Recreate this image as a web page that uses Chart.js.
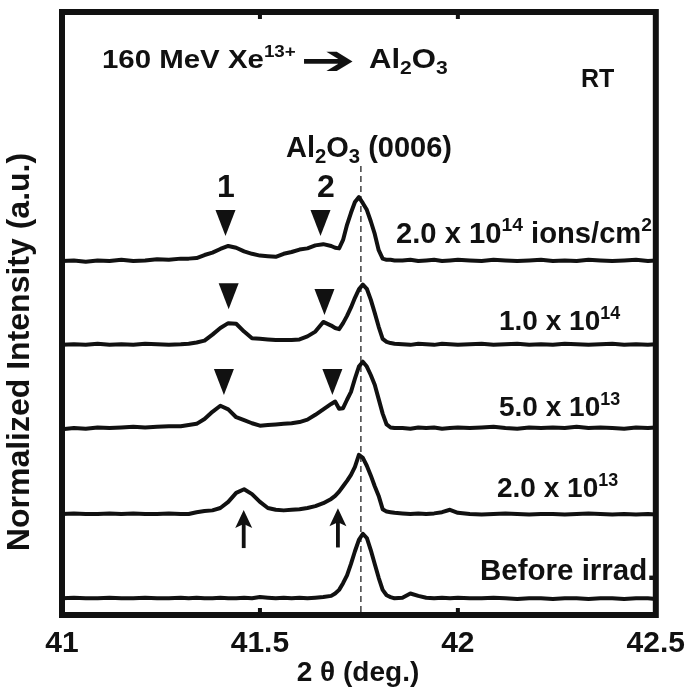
<!DOCTYPE html>
<html><head><meta charset="utf-8">
<script src="https://cdn.jsdelivr.net/npm/chart.js@4.4.1/dist/chart.umd.min.js"></script>
<style>html,body{margin:0;padding:0;background:#fff;overflow:hidden}canvas{display:block}</style>
</head><body>
<canvas id="c" width="696" height="693"></canvas>
<script>
// ---- data ----
const twoTheta = [
  41.00, 41.03, 41.06, 41.09, 41.12, 41.15, 41.18, 41.21, 41.24, 41.27, 41.30,
  41.32, 41.34, 41.36, 41.38, 41.40, 41.42, 41.44, 41.46, 41.48, 41.50, 41.52, 41.54, 41.56, 41.58, 41.60, 41.62, 41.64, 41.66, 41.68,
  41.69, 41.70, 41.71, 41.72, 41.73, 41.74, 41.75, 41.76, 41.77, 41.78, 41.79, 41.80, 41.81, 41.82, 41.83, 41.84,
  41.86, 41.88, 41.90, 41.92, 41.94, 41.96, 41.98, 42.00,
  42.03, 42.06, 42.09, 42.12, 42.15, 42.18, 42.21, 42.24, 42.27, 42.30, 42.33, 42.36, 42.39, 42.42, 42.45, 42.48, 42.50
];
// intensities relative to each curve's own baseline (a.u.)
const int2p0e14 = [
  0.00, 0.01, -0.01, 0.01, 0.00, 0.02, 0.00, 0.01, 0.03, 0.02, 0.04,
  0.04, 0.05, 0.10, 0.14, 0.20, 0.25, 0.22, 0.16, 0.12, 0.09, 0.08, 0.07, 0.12, 0.15, 0.19, 0.21, 0.26, 0.28, 0.25,
  0.22, 0.21, 0.35, 0.60, 0.80, 0.98, 1.06, 0.96, 0.85, 0.66, 0.45, 0.18, 0.04, 0.02, 0.02, 0.01,
  0.01, 0.02, 0.00, 0.01, 0.02, 0.00, 0.01, 0.02,
  0.01, 0.00, 0.02, 0.01, 0.00, 0.01, 0.02, 0.00, 0.01, 0.00, 0.02, 0.01, 0.00, 0.01, 0.02, 0.00, 0.01
];
const int1p0e14 = [
  0.00, 0.01, 0.00, 0.02, 0.00, 0.01, 0.00, 0.02, 0.01, 0.00, 0.01,
  0.02, 0.04, 0.07, 0.17, 0.28, 0.36, 0.35, 0.22, 0.11, 0.10, 0.09, 0.08, 0.08, 0.08, 0.09, 0.14, 0.22, 0.38, 0.32,
  0.28, 0.26, 0.36, 0.48, 0.62, 0.78, 0.92, 1.00, 0.93, 0.75, 0.53, 0.30, 0.10, 0.05, 0.03, 0.02,
  0.01, 0.00, 0.02, 0.01, 0.00, 0.02, 0.01, 0.00,
  0.01, 0.02, 0.00, 0.01, 0.02, 0.00, 0.01, 0.00, 0.02, 0.01, 0.00, 0.01, 0.02, 0.00, 0.01, 0.00, 0.01
];
const int5p0e13 = [
  -0.02, 0.00, -0.01, 0.01, 0.00, 0.01, 0.02, 0.01, 0.02, 0.03, 0.03,
  0.05, 0.07, 0.15, 0.27, 0.37, 0.31, 0.18, 0.13, 0.08, 0.04, 0.05, 0.06, 0.07, 0.08, 0.10, 0.14, 0.22, 0.31, 0.40,
  0.44, 0.32, 0.33, 0.47, 0.60, 0.82, 1.02, 1.10, 1.02, 0.88, 0.72, 0.48, 0.24, 0.06, 0.01, 0.00,
  0.00, -0.01, 0.01, 0.00, 0.01, -0.01, 0.00, 0.01,
  0.00, 0.01, 0.02, 0.00, -0.01, 0.01, 0.00, 0.01, 0.00, 0.02, 0.00, 0.01, 0.00, -0.01, 0.01, 0.00, 0.01
];
const int2p0e13 = [
  0.00, 0.01, 0.00, 0.00, 0.01, 0.00, 0.01, 0.00, 0.00, 0.01, 0.00,
  0.00, 0.03, 0.05, 0.06, 0.10, 0.20, 0.35, 0.41, 0.33, 0.20, 0.10, 0.07, 0.06, 0.07, 0.08, 0.10, 0.13, 0.18, 0.25,
  0.30, 0.37, 0.46, 0.55, 0.65, 0.78, 0.98, 0.93, 0.80, 0.64, 0.46, 0.30, 0.08, 0.04, 0.03, 0.02,
  0.01, 0.00, 0.01, 0.00, 0.01, 0.03, 0.07, 0.02,
  0.00, -0.01, 0.00, 0.01, 0.00, -0.01, 0.00, 0.00, -0.01, 0.00, 0.01, 0.00, -0.01, 0.00, -0.01, 0.00, -0.01
];
const intBefore = [
  0.00, 0.01, 0.00, 0.00, 0.01, 0.00, 0.00, 0.01, 0.00, 0.00, 0.01,
  0.00, 0.01, 0.00, 0.00, 0.01, 0.00, 0.00, 0.01, 0.00, 0.02, 0.01, 0.00, 0.01, 0.00, 0.01, 0.00, 0.01, 0.02, 0.04,
  0.08, 0.14, 0.25, 0.38, 0.57, 0.78, 0.97, 1.07, 1.00, 0.80, 0.57, 0.34, 0.14, 0.05, 0.02, 0.00,
  0.01, 0.08, 0.04, 0.01, 0.00, 0.01, 0.00, 0.01,
  0.00, 0.00, 0.01, 0.00, -0.01, 0.00, 0.00, -0.01, 0.00, 0.00, -0.01, 0.00, 0.00, -0.01, 0.00, 0.00, -0.01
];
const seriesNames = ["2.0 x 10^14 ions/cm^2", "1.0 x 10^14", "5.0 x 10^13", "2.0 x 10^13", "Before irrad."];
const seriesValues = [int2p0e14, int1p0e14, int5p0e13, int2p0e13, intBefore];
const seriesOffsets = [5.87, 4.48, 3.10, 1.675, 0.277];   // vertical stacking offsets (a.u.)
const xTickValues = [41, 41.5, 42, 42.5];
const xTickLabels = ["41", "41.5", "42", "42.5"];
const refPeak2Theta = 41.755;   // Al2O3 (0006)
// peak markers: [2theta, intensity position of tip]
const downMarkers = [[41.413, 6.285], [41.653, 6.285], [41.421, 5.07], [41.663, 4.975], [41.409, 3.648], [41.683, 3.648]];
const upMarkers = [[41.459, 1.74, 1.11], [41.697, 1.77, 1.12]];

// ---- chart ----
const FONT = '"Liberation Sans", Arial, Helvetica, sans-serif';
const INK = '#111';

const datasets = seriesValues.map((vals, i) => ({
  label: seriesNames[i],
  data: twoTheta.map((t, k) => ({ x: t, y: seriesOffsets[i] + vals[k] })),
  borderColor: INK,
  borderWidth: 4,
  pointRadius: 0,
  tension: 0,
  borderJoinStyle: 'round',
  borderCapStyle: 'round',
  fill: false
}));

function rich(ctx, x, y, size, segs, subScale) {
  const k = subScale || 0.64;
  for (const [t, mode] of segs) {
    const s = mode === 'n' ? size : size * k;
    const dy = mode === 'sup' ? -size * 0.40 : (mode === 'sub' ? size * 0.22 : 0);
    ctx.font = 'bold ' + s + 'px ' + FONT;
    ctx.fillText(t, x, y + dy);
    x += ctx.measureText(t).width;
  }
  return x;
}

const deco = {
  id: 'deco',
  beforeDatasetsDraw(chart) {
    const { ctx, chartArea: a, scales: { x } } = chart;
    ctx.save();
    ctx.strokeStyle = '#333';
    ctx.lineWidth = 1.4;
    ctx.setLineDash([6, 4]);
    const px = x.getPixelForValue(refPeak2Theta);
    ctx.beginPath();
    ctx.moveTo(px, 166);
    ctx.lineTo(px, a.bottom);
    ctx.stroke();
    ctx.restore();
  },
  afterDatasetsDraw(chart) {
    const { ctx, chartArea: a, scales: { x, y } } = chart;
    ctx.save();
    ctx.fillStyle = INK;
    ctx.strokeStyle = INK;
    for (const [t, v] of downMarkers) {
      const px = x.getPixelForValue(t), py = y.getPixelForValue(v);
      ctx.beginPath();
      ctx.moveTo(px, py);
      ctx.lineTo(px - 10, py - 26);
      ctx.lineTo(px + 10, py - 26);
      ctx.closePath();
      ctx.fill();
    }
    for (const [t, vTop, vBot] of upMarkers) {
      const px = x.getPixelForValue(t), pt = y.getPixelForValue(vTop), pb = y.getPixelForValue(vBot);
      ctx.lineWidth = 3.8;
      ctx.beginPath();
      ctx.moveTo(px, pb);
      ctx.lineTo(px, pt + 10);
      ctx.stroke();
      ctx.beginPath();
      ctx.moveTo(px, pt);
      ctx.lineTo(px - 8.5, pt + 18);
      ctx.lineTo(px, pt + 14);
      ctx.lineTo(px + 8.5, pt + 18);
      ctx.closePath();
      ctx.fill();
    }
    ctx.lineWidth = 6;
    ctx.strokeRect(a.left, a.top, a.right - a.left, a.bottom - a.top);
    ctx.lineWidth = 4;
    for (const t of [41.5, 42]) {
      const px = x.getPixelForValue(t);
      ctx.beginPath();
      ctx.moveTo(px, a.top); ctx.lineTo(px, a.top + 7);
      ctx.moveTo(px, a.bottom); ctx.lineTo(px, a.bottom - 7);
      ctx.stroke();
    }
    ctx.restore();
  },
  afterDraw(chart) {
    const { ctx } = chart;
    ctx.save();
    ctx.fillStyle = INK;
    ctx.textBaseline = 'alphabetic';
    ctx.textAlign = 'left';
    // title line (slightly widened to match the original lettering)
    ctx.save();
    ctx.translate(102, 0);
    ctx.scale(1.11, 1);
    let xx = rich(ctx, 0, 68, 26.5, [['160 MeV Xe', 'n'], ['13+', 'sup']]);
    ctx.font = 'bold 40px "DejaVu Sans", sans-serif';
    const aw = ctx.measureText('\u2794').width;
    ctx.save();
    ctx.translate(xx + 4, 74);
    ctx.scale(50 / aw, 1);
    ctx.fillText('\u2794', 0, 0);
    ctx.restore();
    rich(ctx, xx + 66, 68, 28, [['Al', 'n'], ['2', 'sub'], ['O', 'n'], ['3', 'sub']], 0.68);
    ctx.restore();
    rich(ctx, 581, 87, 25, [['RT', 'n']]);
    rich(ctx, 286, 157, 29, [['Al', 'n'], ['2', 'sub'], ['O', 'n'], ['3', 'sub'], [' (0006)', 'n']], 0.7);
    ctx.textAlign = 'center';
    ctx.font = 'bold 32px ' + FONT;
    ctx.fillText('1', 226, 197);
    ctx.fillText('2', 326, 197);
    ctx.textAlign = 'left';
    rich(ctx, 396, 243, 29.2, [['2.0 x 10', 'n'], ['14', 'sup'], [' ions/cm', 'n'], ['2', 'sup']], 0.66);
    rich(ctx, 499, 330, 28, [['1.0 x 10', 'n'], ['14', 'sup']]);
    rich(ctx, 499, 416, 28, [['5.0 x 10', 'n'], ['13', 'sup']]);
    rich(ctx, 497, 497, 28, [['2.0 x 10', 'n'], ['13', 'sup']]);
    rich(ctx, 480, 580, 29.5, [['Before irrad.', 'n']]);
    ctx.textAlign = 'center';
    ctx.font = 'bold 28px ' + FONT;
    ctx.fillText('2 \u03b8 (deg.)', 358, 681);
    ctx.save();
    ctx.translate(29, 352);
    ctx.rotate(-Math.PI / 2);
    ctx.font = 'bold 32px ' + FONT;
    ctx.fillText('Normalized Intensity (a.u.)', 0, 0);
    ctx.restore();
    ctx.restore();
  }
};

new Chart(document.getElementById('c'), {
  type: 'line',
  data: { datasets },
  options: {
    responsive: false,
    animation: false,
    devicePixelRatio: 1,
    layout: { padding: { left: 62, right: 30, top: 12, bottom: 20 } },
    plugins: { legend: { display: false }, tooltip: { enabled: false } },
    scales: {
      x: {
        type: 'linear', min: 41, max: 42.5,
        afterBuildTicks: (s) => { s.ticks = xTickValues.map(v => ({ value: v })); },
        ticks: {
          callback: (v) => xTickLabels[xTickValues.indexOf(v)] ?? '',
          font: { family: FONT, size: 30, weight: 'bold' },
          color: INK, padding: 11, maxRotation: 0, autoSkip: false
        },
        grid: { display: false, drawTicks: false },
        border: { display: false }
      },
      y: { type: 'linear', min: 0, max: 10, display: false }
    }
  },
  plugins: [deco]
});
</script>
</body></html>
